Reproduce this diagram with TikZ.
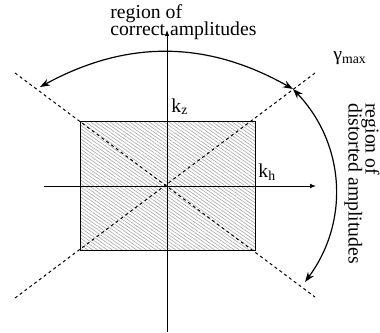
\documentclass[tikz,border=0pt]{standalone}
\usepackage{fontspec}
\setmainfont{Liberation Serif}
\usetikzlibrary{arrows.meta, patterns.meta}
\newcommand\lblfont{\fontsize{9.85}{8.6}\selectfont\lineskiplimit=-10pt\relax}

\begin{document}
\begin{tikzpicture}[
    x=0.5pt, y=0.5pt,
    lbl/.style={inner sep=0pt, font=\lblfont},
    axis/.style={line width=0.5pt, -{Latex[length=3pt, width=2.4pt]}},
    guide/.style={line width=0.5pt, dash pattern=on 1.5pt off 1.5pt},
    span/.style={line width=0.6pt, {Stealth[length=5pt, width=3.6pt]}-{Stealth[length=5pt, width=3.6pt]}},
    hatch/.style={pattern={Lines[angle=-35, distance=1.4pt, line width=0.3pt]},
                  pattern color=gray!70}
  ]
  \useasboundingbox (-167,-146) rectangle (213,186);

  % shaded region
  \draw[line width=0.5pt, hatch] (-86,-64) rectangle (88,65);

  % axes
  \coordinate (hl) at (-123,0);
  \coordinate (hr) at (149,0);
  \coordinate (vb) at (0,-146);
  \coordinate (vt) at (0,156);
  \draw[axis] (hl) -- (hr);
  \draw[axis] (vb) -- (vt);

  % limiting directions
  \coordinate (ul) at (-152,113);
  \coordinate (lr) at (148,-111);
  \coordinate (ur) at (148,113);
  \coordinate (ll) at (-152,-112);
  \draw[guide] (ul) -- (lr);
  \draw[guide] (ur) -- (ll);

  % ranges
  \coordinate (topA) at (-127,99);
  \coordinate (topB) at (126,97);
  \coordinate (sideB) at (138,-96);
  \draw[span] (topA) to[bend left=29] (topB);
  \draw[span] (topB) to[bend left=40] (sideB);

  % labels
  \node[lbl, anchor=base west] (kz) at (4,74) {k\textsubscript{z}};
  \node[lbl, anchor=base west] (kh) at (91,9) {k\textsubscript{h}};
  \node[lbl, anchor=base west] (gam) at (166,125) {γ\textsubscript{max}};
  \node[lbl, anchor=north west, align=left] (corr) at (-57,182)
    {region of\\correct amplitudes};
  \node[lbl, anchor=north west, align=left, rotate=-90] (dist) at (213,83)
    {region of\\distorted amplitudes};
\end{tikzpicture}
\end{document}
